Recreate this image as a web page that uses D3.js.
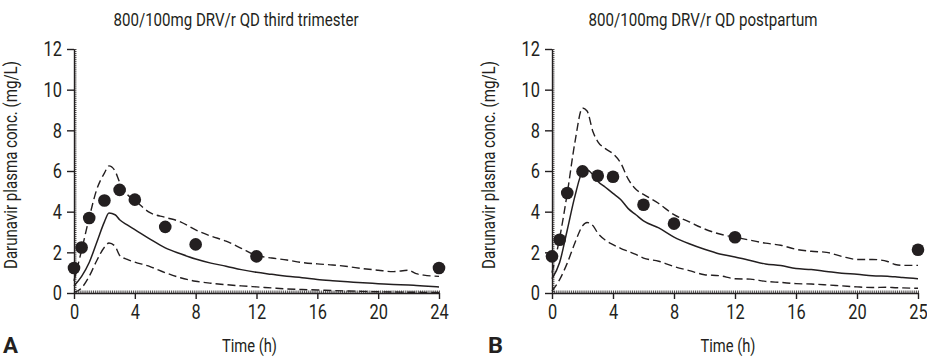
<!DOCTYPE html>
<html>
<head>
<meta charset="utf-8">
<script src="https://cdn.jsdelivr.net/npm/d3@7"></script>
<style>
  html, body { margin: 0; padding: 0; background: #fff; }
  svg { display: block; }
  text { font-family: Roboto, "DejaVu Sans", sans-serif; fill: #231f20; }
</style>
</head>
<body>
<div id="chart"></div>
<script>
// ------- data -------
const xTicks = [0, 4, 8, 12, 16, 20, 24];
const xLabelsA = ["0", "4", "8", "12", "16", "20", "24"];
const xLabelsB = ["0", "4", "8", "12", "16", "20", "25"];
const yTicks = [0, 2, 4, 6, 8, 10, 12];

// observed concentrations (mg/L)
const obsTime = [0, 0.5, 1, 2, 3, 4, 6, 8, 12, 24];
const obsA = [1.23, 2.24, 3.69, 4.55, 5.07, 4.59, 3.25, 2.39, 1.8, 1.23];
const obsB = [1.8, 2.62, 4.92, 5.98, 5.77, 5.72, 4.34, 3.41, 2.74, 2.13];

// simulated median + 90% PI, third trimester
const simTimeA = [0, 0.5, 1, 1.5, 2, 2.3, 2.7, 3, 3.5, 4, 5, 6, 7, 8, 9, 10, 11, 12, 13, 14, 15, 16, 17, 18, 19, 20, 21, 22, 22.5, 23, 24];
const upperA = [0.6, 2.1, 3.7, 5.1, 5.9, 6.25, 6.0, 5.45, 4.85, 4.55, 3.95, 3.72, 3.5, 3.1, 2.8, 2.55, 2.2, 1.85, 1.72, 1.62, 1.5, 1.43, 1.38, 1.3, 1.2, 1.12, 1.05, 1.12, 0.95, 0.88, 0.82];
const medianA = [0.35, 0.82, 1.5, 2.5, 3.5, 3.93, 3.85, 3.6, 3.35, 3.12, 2.65, 2.22, 1.93, 1.67, 1.47, 1.32, 1.15, 1.02, 0.92, 0.82, 0.75, 0.66, 0.6, 0.55, 0.5, 0.46, 0.42, 0.39, 0.37, 0.35, 0.3];
const lowerA = [0.02, 0.25, 0.82, 1.6, 2.25, 2.46, 2.3, 1.85, 1.65, 1.52, 1.3, 1.0, 0.75, 0.58, 0.48, 0.41, 0.35, 0.3, 0.25, 0.2, 0.17, 0.15, 0.12, 0.1, 0.08, 0.06, 0.05, 0.04, 0.04, 0.03, 0.03];

// simulated median + 90% PI, postpartum
const simTimeB = [0, 0.5, 1, 1.5, 2, 2.3, 2.7, 3, 3.5, 4, 4.5, 5, 5.5, 6, 7, 8, 9, 10, 11, 12, 13, 14, 15, 16, 17, 18, 19, 20, 21, 22, 22.5, 23, 24];
const upperB = [1.0, 2.7, 4.9, 7.4, 9.1, 8.95, 7.9, 7.45, 7.1, 6.85, 6.4, 5.6, 5.1, 4.85, 4.4, 3.85, 3.5, 3.15, 2.9, 2.74, 2.6, 2.45, 2.35, 2.15, 2.05, 2.0, 1.8, 1.65, 1.65, 1.55, 1.4, 1.36, 1.36];
const medianB = [0.7, 1.5, 3.1, 4.75, 5.95, 6.05, 5.8, 5.5, 5.2, 4.9, 4.6, 4.15, 3.85, 3.55, 3.2, 2.75, 2.42, 2.15, 1.92, 1.77, 1.6, 1.43, 1.35, 1.2, 1.15, 1.06, 0.97, 0.92, 0.85, 0.82, 0.8, 0.76, 0.7];
const lowerB = [0.1, 0.66, 1.47, 2.46, 3.3, 3.47, 3.3, 2.95, 2.6, 2.38, 2.2, 2.05, 1.9, 1.72, 1.56, 1.3, 1.1, 0.9, 0.85, 0.7, 0.68, 0.57, 0.52, 0.46, 0.44, 0.4, 0.35, 0.3, 0.27, 0.28, 0.26, 0.25, 0.23];

const panels = [
  { letter: "A", title: "800/100mg DRV/r QD third trimester", titleX: 236, titleLen: 245, left: 74, right: 439,
    xLabels: xLabelsA, simTime: simTimeA, upper: upperA, median: medianA, lower: lowerA, obs: obsA },
  { letter: "B", title: "800/100mg DRV/r QD postpartum", titleX: 703, titleLen: 229, left: 552, right: 918,
    xLabels: xLabelsB, simTime: simTimeB, upper: upperB, median: medianB, lower: lowerB, obs: obsB }
];

// ------- drawing -------
const W = 927, H = 359;
const TOP = 49, BOTTOM = 293;
const INK = "#231f20";
const SQUEEZE = 0.78; // condensed look of the original typeface

const svg = d3.select("#chart").append("svg")
  .attr("width", W).attr("height", H)
  .attr("viewBox", `0 0 ${W} ${H}`);

panels.forEach(p => {
  const x = d3.scaleLinear().domain([0, 24]).range([p.left, p.right]);
  const y = d3.scaleLinear().domain([0, 12]).range([BOTTOM, TOP]);
  const g = svg.append("g");

  // minor ticks -> hatched axis lines
  g.append("g")
    .attr("transform", `translate(0,${BOTTOM})`)
    .call(d3.axisBottom(x).tickValues(d3.range(0, 24.01, 0.125)).tickSize(-2.5).tickFormat(""))
    .call(a => a.select(".domain").remove())
    .call(a => a.selectAll("line").attr("stroke", INK).attr("stroke-width", 0.8));
  g.append("g")
    .attr("transform", `translate(${p.left},0)`)
    .call(d3.axisLeft(y).tickValues(d3.range(0, 12.01, 0.1)).tickSize(-2.5).tickFormat(""))
    .call(a => a.select(".domain").remove())
    .call(a => a.selectAll("line").attr("stroke", INK).attr("stroke-width", 0.8));

  // major axes
  g.append("g")
    .attr("transform", `translate(0,${BOTTOM})`)
    .call(d3.axisBottom(x).tickValues(xTicks).tickSizeInner(6).tickSizeOuter(0).tickPadding(5)
      .tickFormat((d, i) => p.xLabels[i]))
    .call(a => a.selectAll("path,line").attr("stroke", INK).attr("stroke-width", 1.4))
    .call(a => a.selectAll("text")
      .attr("font-size", 21).style("font-family", null).attr("fill", INK)
      .attr("transform", `scale(${SQUEEZE},1)`));
  g.append("g")
    .attr("transform", `translate(${p.left},0)`)
    .call(d3.axisLeft(y).tickValues(yTicks).tickSizeInner(7).tickSizeOuter(0).tickPadding(7))
    .call(a => a.selectAll("path,line").attr("stroke", INK).attr("stroke-width", 1.4))
    .call(a => a.selectAll("text")
      .attr("font-size", 21).style("font-family", null).attr("fill", INK)
      .attr("x", -12 / SQUEEZE)
      .attr("transform", `scale(${SQUEEZE},1)`));

  // curves
  const line = key => d3.line()
    .x((d, i) => x(p.simTime[i]))
    .y(d => y(d))
    .curve(d3.curveMonotoneX)(p[key]);

  g.append("path").attr("d", line("upper"))
    .attr("fill", "none").attr("stroke", INK).attr("stroke-width", 1.4)
    .attr("stroke-dasharray", "8,4");
  g.append("path").attr("d", line("lower"))
    .attr("fill", "none").attr("stroke", INK).attr("stroke-width", 1.4)
    .attr("stroke-dasharray", "8,4");
  g.append("path").attr("d", line("median"))
    .attr("fill", "none").attr("stroke", INK).attr("stroke-width", 1.5);

  // observed points
  g.append("g").selectAll("circle")
    .data(p.obs)
    .enter()
    .append("circle")
    .attr("cx", (d, i) => x(obsTime[i]))
    .attr("cy", d => y(d))
    .attr("r", 6.3)
    .attr("fill", INK);

  // texts
  const mid = (p.left + p.right) / 2;
  g.append("text")
    .attr("x", p.titleX).attr("y", 26)
    .attr("text-anchor", "middle")
    .attr("font-size", 18)
    .attr("textLength", p.titleLen)
    .attr("lengthAdjust", "spacingAndGlyphs")
    .text(p.title);

  g.append("text")
    .attr("x", mid - 7).attr("y", 352)
    .attr("text-anchor", "middle")
    .attr("font-size", 19)
    .attr("textLength", 55)
    .attr("lengthAdjust", "spacingAndGlyphs")
    .text("Time (h)");

  g.append("text")
    .attr("transform", `translate(${p.left - 57},${(TOP + BOTTOM) / 2 - 6}) rotate(-90)`)
    .attr("text-anchor", "middle")
    .attr("font-size", 18)
    .attr("textLength", 208)
    .attr("lengthAdjust", "spacingAndGlyphs")
    .text("Darunavir plasma conc. (mg/L)");

  g.append("text")
    .attr("x", p.left - 71 + (p.letter === "B" ? 7 : 0)).attr("y", 353)
    .attr("font-size", 21.5)
    .attr("font-weight", "bold")
    .attr("textLength", 15)
    .attr("lengthAdjust", "spacingAndGlyphs")
    .text(p.letter);
});
</script>
</body>
</html>
